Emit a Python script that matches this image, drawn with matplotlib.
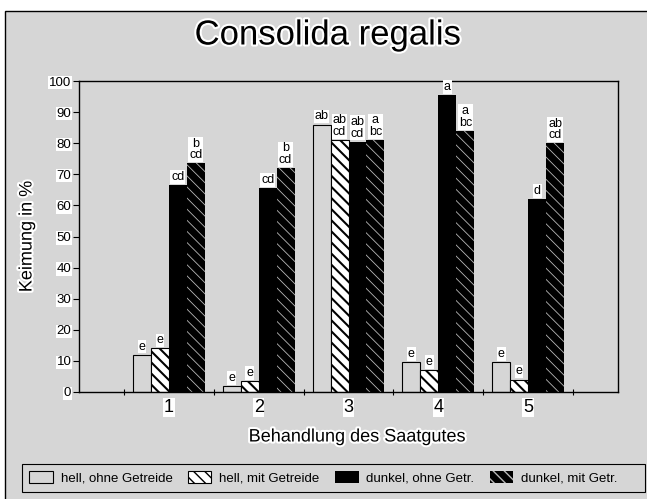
import numpy as np
import matplotlib
matplotlib.use('Agg')
import matplotlib.pyplot as plt
import matplotlib.patheffects as pe
from matplotlib.patches import Rectangle

plt.rcParams['font.family'] = ['Liberation Sans', 'DejaVu Sans']

# Keimung in % je Behandlung des Saatgutes
behandlung = ['1', '2', '3', '4', '5']
hell_ohne = [12, 2, 86, 9.5, 9.5]
hell_mit = [14, 3.5, 81, 7, 4]
dunkel_ohne = [66.5, 65.5, 80.5, 95.5, 62]
dunkel_mit = [73.5, 72, 81, 84, 80]

# Signifikanzbuchstaben ueber den Balken
sig_hell_ohne = ['e', 'e', 'ab', 'e', 'e']
sig_hell_mit = ['e', 'e', 'ab\ncd', 'e', 'e']
sig_dunkel_ohne = ['cd', 'cd', 'ab\ncd', 'a', 'd']
sig_dunkel_mit = ['b\ncd', 'b\ncd', 'a\nbc', 'a\nbc', 'ab\ncd']

legend_labels = ['hell, ohne Getreide', 'hell, mit Getreide',
                 'dunkel, ohne Getr.', 'dunkel, mit Getr.']

bg = '#d6d6d6'
W, H = 647, 499
fig = plt.figure(figsize=(W / 100, H / 100), dpi=100)
fig.patch.set_facecolor('white')

# grauer Hintergrund mit Rahmen
fig.add_artist(Rectangle((5 / W, -0.01), 1.0, 1.01 - 11 / H, transform=fig.transFigure,
                         facecolor=bg, edgecolor='black', lw=1.0, zorder=0))

ax = fig.add_axes([79 / W, 1 - 392 / H, (618 - 79) / W, (392 - 81) / H])
ax.set_facecolor(bg)

x = np.arange(1, 6)
w = 0.2
b1 = ax.bar(x - 0.3, hell_ohne, w, facecolor='none', edgecolor='black', lw=0.8)
b2 = ax.bar(x - 0.1, hell_mit, w, facecolor='white', edgecolor='black', lw=0.8, hatch='\\\\\\')
b3 = ax.bar(x + 0.1, dunkel_ohne, w, color='black')
b4 = ax.bar(x + 0.3, dunkel_mit, w, facecolor='black', edgecolor='#b8b8b8', lw=0, hatch='\\\\\\')

for p in b2:
    if hasattr(p, 'set_hatch_linewidth'):
        p.set_hatch_linewidth(1.5)
for p in b4:
    if hasattr(p, 'set_hatch_linewidth'):
        p.set_hatch_linewidth(0.6)

for bars, sig in zip([b1, b2, b3, b4], [sig_hell_ohne, sig_hell_mit, sig_dunkel_ohne, sig_dunkel_mit]):
    for rect, s in zip(bars, sig):
        ax.annotate(s, (rect.get_x() + rect.get_width() / 2, rect.get_height()),
                    xytext=(0, 1.5), textcoords='offset points', ha='center', va='bottom',
                    fontsize=9, linespacing=0.95,
                    bbox=dict(facecolor='white', edgecolor='none', pad=0.6))

ax.set_xlim(0, 6)
ax.set_ylim(0, 100)
ax.set_yticks(range(0, 101, 10))
ax.tick_params(axis='y', direction='out', length=4, width=0.8, pad=1.5, labelsize=9.5)
ax.set_xticks(x)
ax.set_xticklabels(behandlung)
ax.set_xticks(np.arange(0.5, 6, 1), minor=True)
ax.tick_params(axis='x', which='major', length=0, pad=5, labelsize=13)
ax.tick_params(axis='x', which='minor', direction='inout', length=5, width=0.8)
for lab in ax.get_yticklabels() + ax.get_xticklabels():
    lab.set_bbox(dict(facecolor='white', edgecolor='none', pad=0.5))
for sp in ax.spines.values():
    sp.set_linewidth(1.0)

halo = [pe.withStroke(linewidth=3, foreground='white')]
fig.text(328 / W, 1 - 35 / H, 'Consolida regalis', ha='center', va='center',
         fontsize=25, path_effects=halo)
fig.text(27 / W, 1 - 236.5 / H, 'Keimung in %', rotation=90, ha='center', va='center',
         fontsize=13, path_effects=halo)
fig.text(357 / W, 1 - 437 / H, 'Behandlung des Saatgutes', ha='center', va='center',
         fontsize=13, path_effects=halo)

# Legende in eigenem Kasten unten
fig.add_artist(Rectangle((22 / W, 1 - 492 / H), (645 - 22) / W, 28 / H, transform=fig.transFigure,
                         fill=False, edgecolor='black', lw=0.8))
fig.legend([b1, b2, b3, b4], legend_labels, loc='center left', bbox_to_anchor=(29 / W, 1 - 478 / H),
           ncol=4, frameon=False, borderpad=0, borderaxespad=0, fontsize=9.5,
           handlelength=1.8, handleheight=1.0, handletextpad=0.6, columnspacing=1.15)

fig.savefig('out.png', dpi=100)
